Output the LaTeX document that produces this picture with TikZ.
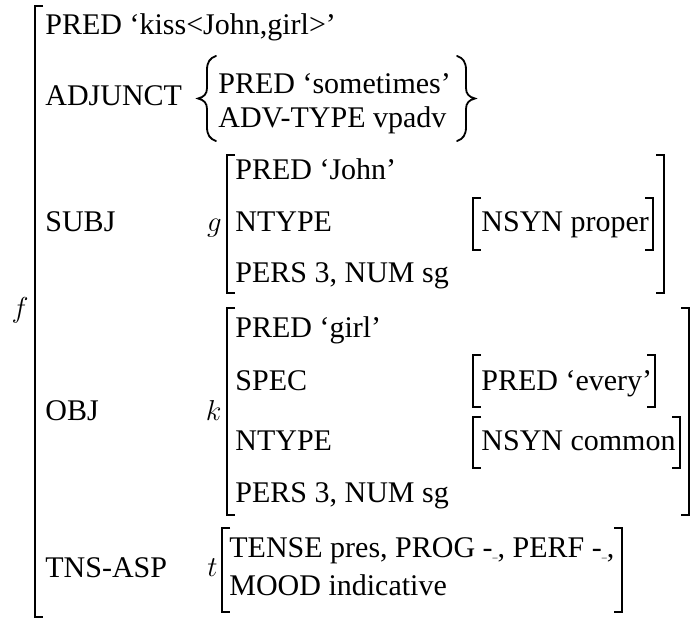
\documentclass[tikz,border=0pt]{standalone}
\usepackage{fontspec}
\setmainfont{Liberation Serif}
\usepackage{amsmath}
\usepackage{tikz}
\tikzset{
	attr/.style={anchor=base west,inner sep=0pt,font=\fontsize{15}{18}\selectfont},
	fname/.style={anchor=base east,inner sep=0pt,font=\fontsize{15}{18}\selectfont},
	big brak/.style={draw,line width=1pt},
	small brak/.style={draw,line width=0.6pt},
	set brace/.style={draw,line width=0.9pt,line cap=round}
}
\newcommand{\lbrak}[4][big brak]{\draw[#1] (#2+8,#3) -- (#2,#3) -- (#2,#4) -- (#2+8,#4);}
\newcommand{\rbrak}[4][big brak]{\draw[#1] (#2-8,#3) -- (#2,#3) -- (#2,#4) -- (#2-8,#4);}
\newcommand{\emptyval}{-{\tiny\_}}

\begin{document}
\begin{tikzpicture}[x=0.5pt,y=-0.5pt]
	\useasboundingbox (0,0) rectangle (694,619);
	% f
	\node [fname] (f) at (29,318) {$f$};
	\lbrak{35}{6}{617}
	\node [attr] (pred) at (45,35) {PRED ‘kiss<John,girl>’};
	\node [attr] (adj) at (45,106) {ADJUNCT};
	\node [attr] (subj) at (45,232) {SUBJ};
	\node [attr] (obj) at (45,420) {OBJ};
	\node [attr] (tns) at (45,577) {TNS-ASP};
	% adjunct set
	\draw [set brace] (216,56) .. controls (210,58) and (207,62) .. (207,70) -- (207,88)
		.. controls (207,94) and (204,97) .. (198,98.5)
		.. controls (204,100) and (207,103) .. (207,109) -- (207,127)
		.. controls (207,135) and (210,139) .. (216,141);
	\draw [set brace] (457,56) .. controls (463,58) and (466,62) .. (466,70) -- (466,88)
		.. controls (466,94) and (469,97) .. (475,98.5)
		.. controls (469,100) and (466,103) .. (466,109) -- (466,127)
		.. controls (466,135) and (463,139) .. (457,141);
	\node [attr] (advpred) at (218,94) {PRED ‘sometimes’};
	\node [attr] (advtype) at (218,128) {ADV-TYPE vpadv};
	% g
	\node [fname] (g) at (222,232) {$g$};
	\lbrak{227}{155}{293}
	\rbrak{664}{155}{293}
	\node [attr] (gpred) at (235,180) {PRED ‘John’};
	\node [attr] (gntype) at (235,232) {NTYPE};
	\node [attr] (gpers) at (235,283) {PERS 3, NUM sg};
	\lbrak[small brak]{473}{198}{250}
	\rbrak[small brak]{653}{198}{250}
	\node [attr] (gnsyn) at (481,232) {NSYN proper};
	% k
	\node [fname] (k) at (222,420) {$k$};
	\lbrak{227}{308}{515}
	\rbrak{689}{308}{515}
	\node [attr] (kpred) at (235,337) {PRED ‘girl’};
	\node [attr] (spec) at (235,390) {SPEC};
	\node [attr] (kntype) at (235,450) {NTYPE};
	\node [attr] (kpers) at (235,502) {PERS 3, NUM sg};
	\lbrak[small brak]{473}{355}{407}
	\rbrak[small brak]{655}{355}{407}
	\node [attr] (every) at (481,390) {PRED ‘every’};
	\lbrak[small brak]{473}{417}{468}
	\rbrak[small brak]{680}{417}{468}
	\node [attr] (knsyn) at (481,450) {NSYN common};
	% t
	\node [fname] (t) at (218,576) {$t$};
	\lbrak{222}{528}{612}
	\rbrak{622}{528}{612}
	\node [attr] (tense) at (229,557) {TENSE pres, PROG \emptyval, PERF \emptyval,};
	\node [attr] (mood) at (229,595) {MOOD indicative};
\end{tikzpicture}
\end{document}
